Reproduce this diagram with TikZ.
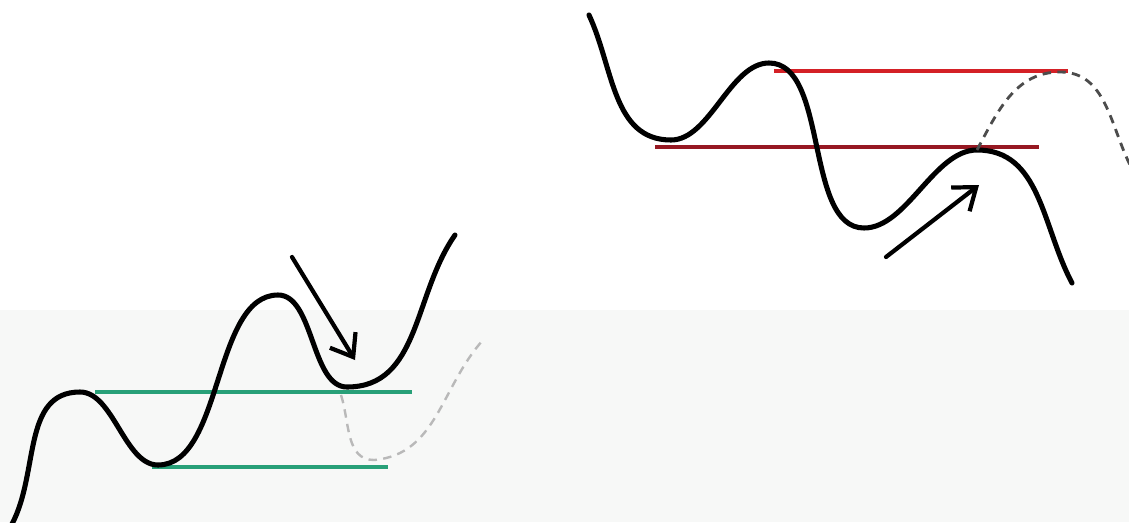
\documentclass[tikz,border=0pt]{standalone}
\usepackage{xcolor}
\usepackage{tikz}
\usetikzlibrary{arrows.meta}

\definecolor{levelgreen}{RGB}{40,160,120}
\definecolor{levelred}{RGB}{212,32,38}
\definecolor{leveldark}{RGB}{150,24,34}
\definecolor{bgband}{RGB}{247,248,247}

\begin{document}
\begin{tikzpicture}[
  x=0.025cm, y=0.025cm,
  price/.style={line width=3.6pt, draw=black, line cap=round, looseness=0.8},
  level/.style={line width=3pt},
  projection/.style={line width=1.7pt, dash pattern=on 6pt off 4.5pt},
  arrow/.style={-{Straight Barb[length=5mm, width=7.5mm, line width=3pt]}, line width=3pt, draw=black, line cap=round},
]

% Canvas
\useasboundingbox (0,0) rectangle (1129,522);
\fill[white] (0,0) rectangle (1129,522);
\fill[bgband] (0,0) rectangle (1129,212);

% Left: bullish retest
\coordinate (ls) at (12,-2);
\coordinate (lp1) at (80,130);
\coordinate (lt1) at (158,57);
\coordinate (lp2) at (278,227);
\coordinate (lt2) at (347,135);
\coordinate (le) at (455,287);

\draw[level, draw=levelgreen] (95,130) coordinate (gu1) -- (412,130) coordinate (gu2);
\draw[level, draw=levelgreen] (152,55) coordinate (gl1) -- (388,55) coordinate (gl2);

\draw[price] (ls) to[out=62, in=180, looseness=1] (lp1) to[out=0, in=180] (lt1)
  to[out=0, in=180] (lp2) to[out=0, in=180] (lt2) to[out=0, in=235, looseness=1] (le);

\coordinate (ld0) at (341,127);
\coordinate (ld1) at (374,62);
\coordinate (ld2) at (483,182);
\draw[projection, draw=gray!55] (ld0) to[out=-72, in=180] (ld1) to[out=5, in=228] (ld2);

\coordinate (la1) at (292,265);
\coordinate (la2) at (355,162);
\draw[arrow] (la1) -- (la2);

% Right: bearish retest
\coordinate (rs) at (589,507);
\coordinate (rt1) at (671,382);
\coordinate (rp1) at (769,459);
\coordinate (rt2) at (864,294);
\coordinate (rp2) at (977,372);
\coordinate (re) at (1072,239);

\draw[level, draw=levelred] (774,451) coordinate (ru1) -- (1068,451) coordinate (ru2);
\draw[level, draw=leveldark] (655,375) coordinate (rl1) -- (1039,375) coordinate (rl2);

\draw[price] (rs) to[out=-65, in=180, looseness=1] (rt1) to[out=0, in=180] (rp1)
  to[out=0, in=180] (rt2) to[out=0, in=180] (rp2) to[out=0, in=118, looseness=1] (re);

\coordinate (rd1) at (1060,450);
\coordinate (rd2) at (1131,355);
\draw[projection, line width=2pt, draw=black!70] (rp2) to[out=62, in=180] (rd1) to[out=0, in=117] (rd2);

\coordinate (ra1) at (886,265);
\coordinate (ra2) at (979,337);
\draw[arrow] (ra1) -- (ra2);

\end{tikzpicture}
\end{document}
